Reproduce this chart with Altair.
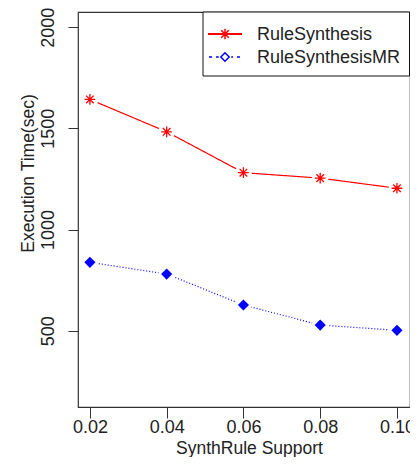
import altair as alt
import pandas as pd

support = [0.02, 0.04, 0.06, 0.08, 0.10]
rule_synthesis = [1643, 1483, 1281, 1254, 1204]
rule_synthesis_mr = [838, 780, 627, 528, 502]
series_names = ["RuleSynthesis", "RuleSynthesisMR"]
x_ticks = [0.02, 0.04, 0.06, 0.08, 0.10]
y_ticks = [500, 1000, 1500, 2000]

df = pd.DataFrame({
    "support": support * 2,
    "time": rule_synthesis + rule_synthesis_mr,
    "series": [series_names[0]] * 5 + [series_names[1]] * 5,
})

RED = "#FF0000"
BLUE = "#0000FF"
FONT = "Liberation Sans"
TXT = "#222222"
ASTER = "M-1,0L1,0M0,-1L0,1M-0.71,-0.71L0.71,0.71M-0.71,0.71L0.71,-0.71"

xs = alt.Scale(domain=[0.0169, 0.1034], nice=False, zero=False)
ys = alt.Scale(domain=[123, 2075], nice=False, zero=False)

x_enc = alt.X("support:Q", scale=xs, axis=alt.Axis(
    values=x_ticks, format=".2f", title="SynthRule Support", grid=False,
    domain=False, ticks=True, tickSize=11, tickColor="#333333", tickWidth=1,
    labelFont=FONT, labelFontSize=18, labelColor=TXT, labelBaseline="alphabetic",
    labelPadding=14, labelFlush=False, labelOverlap=False,
    titleFont=FONT, titleFontSize=17.5, titleFontWeight="normal", titleColor=TXT,
    titleX=171, titleY=46, titleBaseline="alphabetic", titleAlign="center"))
y_enc = alt.Y("time:Q", scale=ys, axis=alt.Axis(
    values=y_ticks, format="d", title="Execution Time(sec)", grid=False,
    domain=False, ticks=True, tickSize=10, tickColor="#333333", tickWidth=1,
    labelFont=FONT, labelFontSize=18, labelColor=TXT, labelAngle=270,
    labelAlign="center", labelBaseline="alphabetic", labelPadding=15,
    labelFlush=False, labelOverlap=False,
    titleFont=FONT, titleFontSize=17.5, titleFontWeight="normal", titleColor=TXT,
    titleAngle=270, titleX=-45, titleY=161, titleBaseline="alphabetic",
    titleAlign="center"))

color = alt.Color("series:N", scale=alt.Scale(domain=series_names, range=[RED, BLUE]), legend=None)
dash = alt.StrokeDash("series:N", scale=alt.Scale(domain=series_names, range=[[1, 0], [1, 2]]), legend=None)

base = alt.Chart(df)
lines = base.mark_line(strokeWidth=1.2).encode(x=x_enc, y=y_enc, color=color, strokeDash=dash)
halo = base.mark_point(shape="circle", filled=True, fill="white", opacity=1, size=280, strokeWidth=0).encode(
    x=alt.X("support:Q", scale=xs), y=alt.Y("time:Q", scale=ys))
aster = base.transform_filter(alt.datum.series == series_names[0]).mark_point(
    shape=ASTER, size=115, color=RED, strokeWidth=1.3, opacity=1, filled=False).encode(
    x=alt.X("support:Q", scale=xs), y=alt.Y("time:Q", scale=ys))
diam = base.transform_filter(alt.datum.series == series_names[1]).mark_point(
    shape="diamond", size=125, color=BLUE, filled=True, opacity=1).encode(
    x=alt.X("support:Q", scale=xs), y=alt.Y("time:Q", scale=ys))

# legend
one = pd.DataFrame({"name": [series_names[0]]})
two = pd.DataFrame({"name": [series_names[1]]})
leg_box = alt.Chart(one).mark_rect(fill="white", stroke="#111111", strokeWidth=1).encode(
    x=alt.value(125), x2=alt.value(331.5), y=alt.value(0), y2=alt.value(64))
leg_l1 = alt.Chart(one).mark_rule(color=RED, strokeWidth=2).encode(
    x=alt.value(130), x2=alt.value(164), y=alt.value(22))
leg_p1 = alt.Chart(one).mark_point(shape=ASTER, size=115, color=RED, strokeWidth=1.5, opacity=1).encode(
    x=alt.value(147), y=alt.value(22))
leg_t1 = alt.Chart(one).mark_text(align="left", baseline="middle", font=FONT, fontSize=18, color=TXT).encode(
    x=alt.value(179), y=alt.value(23), text="name:N")
leg_l2 = alt.Chart(two).mark_rule(color=BLUE, strokeWidth=1.5, strokeDash=[3, 4]).encode(
    x=alt.value(131), x2=alt.value(164), y=alt.value(45))
leg_p2h = alt.Chart(two).mark_point(shape="circle", filled=True, fill="white", size=160, opacity=1, strokeWidth=0).encode(
    x=alt.value(147), y=alt.value(45))
leg_p2 = alt.Chart(two).mark_point(shape="diamond", size=70, color=BLUE, strokeWidth=1.5, filled=False, opacity=1).encode(
    x=alt.value(147), y=alt.value(45))
leg_t2 = alt.Chart(two).mark_text(align="left", baseline="middle", font=FONT, fontSize=18, color=TXT).encode(
    x=alt.value(179), y=alt.value(46), text="name:N")

chart = alt.layer(
    lines, halo, aster, diam,
    leg_box, leg_l1, leg_p1, leg_t1, leg_l2, leg_p2h, leg_p2, leg_t2,
).properties(
    width=332, height=395,
    autosize=alt.AutoSizeParams(type="none"),
    padding={"left": 70, "top": 4, "right": 0, "bottom": 50},
    background="white",
).configure_view(stroke="#333333", strokeWidth=1.2)

chart.save("out.html", embed_options={"renderer": "svg", "actions": False})
